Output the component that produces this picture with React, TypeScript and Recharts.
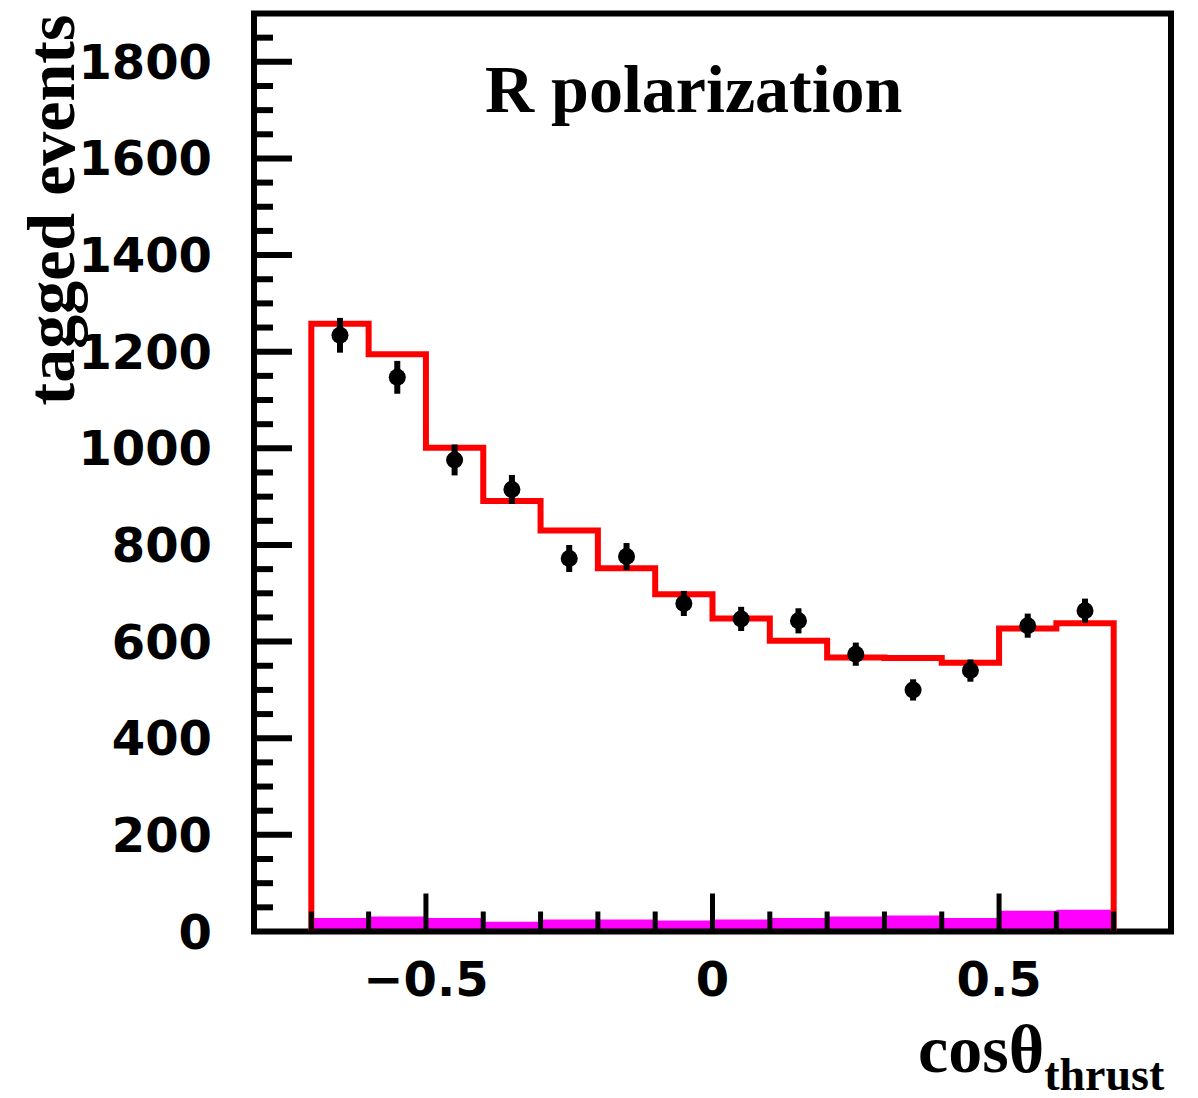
import React from 'react';
import {
  ComposedChart,
  Line,
  Area,
  Scatter,
  ErrorBar,
  XAxis,
  YAxis,
  ReferenceArea
} from 'recharts';

// histogram bins in cos(theta_thrust)
const binEdges = [-0.7, -0.6, -0.5, -0.4, -0.3, -0.2, -0.1, 0, 0.1, 0.2, 0.3, 0.4, 0.5, 0.6, 0.7];
const binCenters = [-0.65, -0.55, -0.45, -0.35, -0.25, -0.15, -0.05, 0.05, 0.15, 0.25, 0.35, 0.45, 0.55, 0.65];

// red expectation histogram
const fitCounts = [1258, 1195, 1001, 891, 830, 752, 698, 648, 602, 567, 566, 556, 627, 638];
// magenta background histogram
const bkgCounts = [28, 31, 28, 20, 25, 25, 23, 25, 28, 31, 33, 28, 43, 45];
// measured points
const dataCounts = [1234, 1147, 976, 915, 772, 776, 679, 647, 643, 574, 500, 540, 633, 664];
const dataErrors = [36, 34, 32, 30, 28, 28, 26, 25, 26, 24, 22, 23, 25, 25];

const yTicks = [
  0, 50, 100, 150, 200, 250, 300, 350, 400, 450, 500, 550, 600, 650, 700, 750, 800, 850, 900, 950,
  1000, 1050, 1100, 1150, 1200, 1250, 1300, 1350, 1400, 1450, 1500, 1550, 1600, 1650, 1700, 1750, 1800, 1850
];
const xTicks = [-0.7, -0.6, -0.5, -0.4, -0.3, -0.2, -0.1, 0, 0.1, 0.2, 0.3, 0.4, 0.5, 0.6, 0.7];
const xMajorTicks = [-0.5, 0, 0.5];
const xMajorLabels = ['\u22120.5', '0', '0.5'];

const fitStep = [
  { x: binEdges[0], y: 0 },
  ...fitCounts.map((c, i) => ({ x: binEdges[i], y: c })),
  { x: binEdges[binEdges.length - 1], y: fitCounts[fitCounts.length - 1] },
  { x: binEdges[binEdges.length - 1], y: 0 }
];

const bkgStep = [
  ...bkgCounts.map((c, i) => ({ x: binEdges[i], y: c })),
  { x: binEdges[binEdges.length - 1], y: bkgCounts[bkgCounts.length - 1] }
];

const points = binCenters.map((x, i) => ({ x, y: dataCounts[i], err: dataErrors[i] }));

const tickFont = { fontFamily: 'DejaVu Sans', fontWeight: 'bold' as const, fontSize: 48, fill: '#000' };
const serif = { fontFamily: 'Liberation Serif, Times New Roman, serif', fontWeight: 'bold' as const, fill: '#000' };

// plot box edges inside the svg
const PLOT_LEFT = 246;
const PLOT_BOTTOM = 923.5;

const renderYTick = (props: any) => {
  const { y, payload } = props;
  const x = PLOT_LEFT;
  const v = payload.value;
  const major = v % 200 === 0;
  return (
    <g key={`yt-${v}`}>
      {v > 0 && <line x1={x} y1={y} x2={x + (major ? 38 : 19)} y2={y} stroke="#000" strokeWidth={6} />}
      {major && (
        <text x={x - 42} y={y} dy={17} textAnchor="end" {...tickFont}>
          {v}
        </text>
      )}
    </g>
  );
};

const renderXTick = (props: any) => {
  const { x, payload } = props;
  const y = PLOT_BOTTOM;
  const v = payload.value;
  const idx = xMajorTicks.findIndex((m) => Math.abs(m - v) < 1e-9);
  const major = idx >= 0;
  return (
    <g key={`xt-${v}`}>
      <line x1={x} y1={y} x2={x} y2={y - (major ? 38 : 20)} stroke="#000" strokeWidth={5} />
      {major && (
        <text x={x} y={y + 64} textAnchor="middle" {...tickFont}>
          {xMajorLabels[idx]}
        </text>
      )}
    </g>
  );
};

const App: React.FC = () => {
  return (
    <div style={{ position: 'relative', width: 1190, height: 1090 }}>
      <ComposedChart
        width={1190}
        height={1090}
        margin={{ top: 5.5, right: 27, left: 146, bottom: 66.5 }}
      >
        <XAxis
          dataKey="x"
          type="number"
          domain={[-0.8, 0.8]}
          ticks={xTicks}
          interval={0}
          allowDataOverflow
          height={100}
          axisLine={false}
          tickLine={false}
          tick={renderXTick}
        />
        <YAxis
          dataKey="y"
          type="number"
          domain={[0, 1900]}
          ticks={yTicks}
          interval={0}
          allowDataOverflow
          width={100}
          axisLine={false}
          tickLine={false}
          tick={renderYTick}
        />
        <Line
          data={fitStep}
          dataKey="y"
          type="stepAfter"
          stroke="#ff0000"
          strokeWidth={6}
          dot={false}
          isAnimationActive={false}
        />
        <Area
          data={bkgStep}
          dataKey="y"
          type="stepAfter"
          stroke="none"
          fill="#ff00ff"
          fillOpacity={1}
          baseValue={0}
          isAnimationActive={false}
        />
        <Scatter
          data={points}
          fill="#000"
          isAnimationActive={false}
          shape={(p: any) => <circle cx={p.cx} cy={p.cy} r={8.5} fill="#000" />}
        >
          <ErrorBar dataKey="err" direction="y" width={0} stroke="#000" strokeWidth={6} />
        </Scatter>
        <ReferenceArea
          x1={-0.8}
          x2={0.8}
          y1={0}
          y2={1900}
          fill="none"
          fillOpacity={0}
          stroke="#000"
          strokeWidth={6}
          ifOverflow="visible"
        />
      </ComposedChart>
      <svg
        width={1190}
        height={1090}
        style={{ position: 'absolute', left: 0, top: 0, pointerEvents: 'none', overflow: 'visible' }}
      >
        <text x={477} y={104} fontSize={68} {...serif}>
          R polarization
        </text>
        <text transform="translate(66, 202) rotate(-90)" textAnchor="middle" fontSize={68} {...serif}>
          tagged events
        </text>
        <text x={910} y={1064} fontSize={68} {...serif}>
          cosθ
          <tspan dy={18} fontSize={46}>
            thrust
          </tspan>
        </text>
      </svg>
    </div>
  );
};

export default App;
